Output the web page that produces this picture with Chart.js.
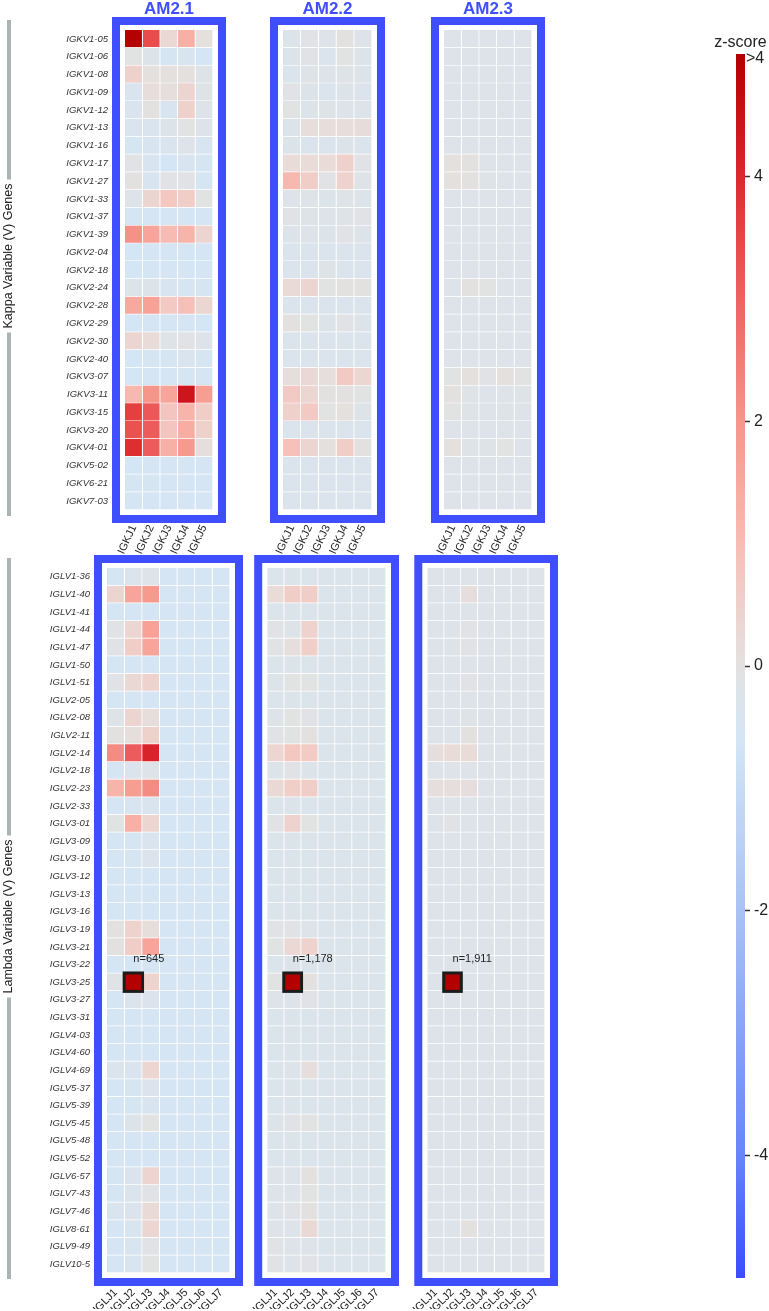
<!DOCTYPE html>
<html lang="en">
<head>
<meta charset="UTF-8">
<title>V-J gene usage z-scores</title>
<script src="https://cdn.jsdelivr.net/npm/chart.js"></script>
<style>
  body { margin: 0; background: #fff; }
  #page { position: relative; width: 769px; height: 1311px; overflow: hidden; }
  #page canvas { position: absolute; }
</style>
</head>
<body>
<div id="page">
  <canvas id="k1" width="240" height="575" style="left:0;top:0"></canvas>
  <canvas id="k2" width="160" height="575" style="left:240px;top:0"></canvas>
  <canvas id="k3" width="160" height="575" style="left:400px;top:0"></canvas>
  <canvas id="l1" width="250" height="781" style="left:0;top:530px"></canvas>
  <canvas id="l2" width="170" height="781" style="left:240px;top:530px"></canvas>
  <canvas id="l3" width="170" height="781" style="left:400px;top:530px"></canvas>
  <canvas id="cbar" width="79" height="1311" style="left:690px;top:0"></canvas>
</div>

<script>
const samples = ['AM2.1', 'AM2.2', 'AM2.3'];

const kappaGenes = ['IGKV1-05', 'IGKV1-06', 'IGKV1-08', 'IGKV1-09', 'IGKV1-12', 'IGKV1-13', 'IGKV1-16',
  'IGKV1-17', 'IGKV1-27', 'IGKV1-33', 'IGKV1-37', 'IGKV1-39', 'IGKV2-04', 'IGKV2-18', 'IGKV2-24',
  'IGKV2-28', 'IGKV2-29', 'IGKV2-30', 'IGKV2-40', 'IGKV3-07', 'IGKV3-11', 'IGKV3-15', 'IGKV3-20',
  'IGKV4-01', 'IGKV5-02', 'IGKV6-21', 'IGKV7-03'];
const kappaJ = ['IGKJ1', 'IGKJ2', 'IGKJ3', 'IGKJ4', 'IGKJ5'];

const lambdaGenes = ['IGLV1-36', 'IGLV1-40', 'IGLV1-41', 'IGLV1-44', 'IGLV1-47', 'IGLV1-50', 'IGLV1-51',
  'IGLV2-05', 'IGLV2-08', 'IGLV2-11', 'IGLV2-14', 'IGLV2-18', 'IGLV2-23', 'IGLV2-33', 'IGLV3-01',
  'IGLV3-09', 'IGLV3-10', 'IGLV3-12', 'IGLV3-13', 'IGLV3-16', 'IGLV3-19', 'IGLV3-21', 'IGLV3-22',
  'IGLV3-25', 'IGLV3-27', 'IGLV3-31', 'IGLV4-03', 'IGLV4-60', 'IGLV4-69', 'IGLV5-37', 'IGLV5-39',
  'IGLV5-45', 'IGLV5-48', 'IGLV5-52', 'IGLV6-57', 'IGLV7-43', 'IGLV7-46', 'IGLV8-61', 'IGLV9-49',
  'IGLV10-5'];
const lambdaJ = ['IGLJ1', 'IGLJ2', 'IGLJ3', 'IGLJ4', 'IGLJ5', 'IGLJ6', 'IGLJ7'];

// z-scores, one row per V gene, one column per J gene
const kappaAM21 = [
  [5.0, 3.4, 0.3, 1.3, 0.05],
  [-0.05, -0.25, -0.5, -0.45, -0.6],
  [0.5, 0.05, 0.05, 0.05, -0.15],
  [-0.35, 0.15, 0.1, 0.4, -0.15],
  [-0.4, 0.0, -0.45, 0.5, -0.2],
  [-0.4, -0.35, -0.25, -0.05, -0.2],
  [-0.5, -0.45, -0.35, -0.2, -0.45],
  [-0.1, -0.45, -0.6, -0.45, -0.5],
  [0.0, -0.45, -0.1, -0.1, -0.5],
  [-0.2, 0.4, 0.75, 0.6, -0.05],
  [-0.55, -0.55, -0.55, -0.55, -0.55],
  [2.1, 1.6, 1.0, 1.2, 0.4],
  [-0.6, -0.55, -0.55, -0.55, -0.55],
  [-0.6, -0.55, -0.55, -0.55, -0.55],
  [-0.25, -0.25, -0.45, -0.5, -0.5],
  [1.5, 1.7, 0.7, 0.95, 0.35],
  [-0.6, -0.55, -0.55, -0.55, -0.6],
  [0.4, 0.2, -0.15, -0.1, -0.2],
  [-0.6, -0.5, -0.5, -0.35, -0.5],
  [-0.6, -0.55, -0.55, -0.5, -0.55],
  [1.1, 2.0, 1.6, 4.4, 1.8],
  [3.6, 3.2, 0.8, 1.2, 0.6],
  [3.3, 3.1, 0.8, 1.4, 0.5],
  [3.9, 3.1, 1.3, 1.9, 0.1],
  [-0.6, -0.55, -0.55, -0.55, -0.55],
  [-0.55, -0.5, -0.55, -0.55, -0.55],
  [-0.55, -0.55, -0.55, -0.55, -0.55]
];
const kappaAM22 = [
  [-0.25, -0.1, -0.2, 0.0, -0.2],
  [-0.25, -0.1, -0.3, -0.05, -0.25],
  [-0.3, -0.15, -0.2, -0.15, -0.25],
  [-0.1, -0.25, -0.3, -0.25, -0.3],
  [-0.05, -0.25, -0.15, -0.2, -0.25],
  [-0.25, 0.15, 0.15, 0.15, 0.12],
  [-0.25, -0.3, -0.3, -0.25, -0.3],
  [0.2, 0.2, 0.2, 0.5, -0.1],
  [1.1, 0.6, -0.1, 0.45, -0.15],
  [-0.2, -0.15, -0.25, -0.15, -0.25],
  [-0.1, -0.15, -0.2, -0.15, -0.1],
  [-0.25, -0.2, -0.25, -0.1, -0.25],
  [-0.3, -0.3, -0.3, -0.3, -0.3],
  [-0.3, -0.3, -0.15, -0.3, -0.3],
  [0.25, 0.4, -0.05, 0.0, 0.0],
  [-0.3, -0.3, -0.3, -0.3, -0.3],
  [0.0, -0.05, -0.25, -0.1, -0.25],
  [-0.3, -0.3, -0.3, -0.3, -0.3],
  [-0.3, -0.3, -0.3, -0.3, -0.3],
  [0.1, 0.3, 0.1, 0.7, 0.35],
  [0.7, 0.35, 0.0, 0.0, -0.05],
  [0.5, 0.7, -0.05, 0.05, -0.15],
  [-0.3, -0.3, -0.3, -0.3, -0.3],
  [0.9, 0.4, 0.05, 0.6, 0.0],
  [-0.3, -0.3, -0.3, -0.3, -0.3],
  [-0.3, -0.3, -0.3, -0.3, -0.3],
  [-0.3, -0.3, -0.3, -0.3, -0.3]
];
const kappaAM23 = [
  [-0.2, -0.2, -0.2, -0.2, -0.2],
  [-0.2, -0.2, -0.2, -0.2, -0.2],
  [-0.2, -0.2, -0.2, -0.2, -0.2],
  [-0.2, -0.2, -0.2, -0.2, -0.2],
  [-0.2, -0.2, -0.2, -0.2, -0.2],
  [-0.2, -0.2, -0.2, -0.2, -0.2],
  [-0.2, -0.2, -0.2, -0.2, -0.2],
  [0.05, 0.0, -0.2, -0.2, -0.2],
  [0.05, 0.0, -0.15, -0.2, -0.2],
  [-0.2, -0.2, -0.2, -0.2, -0.2],
  [-0.2, -0.2, -0.2, -0.2, -0.2],
  [-0.2, -0.2, -0.2, -0.2, -0.2],
  [-0.2, -0.2, -0.2, -0.2, -0.2],
  [-0.2, -0.2, -0.2, -0.2, -0.2],
  [-0.2, 0.0, -0.05, -0.2, -0.2],
  [-0.2, -0.2, -0.2, -0.2, -0.2],
  [-0.2, -0.2, -0.2, -0.2, -0.2],
  [-0.2, -0.2, -0.2, -0.2, -0.2],
  [-0.2, -0.2, -0.2, -0.2, -0.2],
  [-0.05, 0.05, -0.1, 0.05, -0.05],
  [0.0, -0.15, -0.2, -0.2, -0.15],
  [-0.05, -0.15, -0.2, -0.15, -0.2],
  [-0.2, -0.2, -0.2, -0.2, -0.2],
  [0.05, -0.15, -0.15, -0.05, -0.2],
  [-0.2, -0.2, -0.2, -0.2, -0.2],
  [-0.2, -0.2, -0.2, -0.2, -0.2],
  [-0.2, -0.2, -0.2, -0.2, -0.2]
];

const lambdaAM21 = [
  [-0.55, -0.3, -0.2, -0.55, -0.55, -0.55, -0.55],
  [0.4, 1.6, 1.9, -0.55, -0.55, -0.55, -0.55],
  [-0.55, -0.55, -0.55, -0.55, -0.55, -0.55, -0.55],
  [-0.1, 0.35, 1.7, -0.55, -0.55, -0.55, -0.55],
  [-0.1, 0.6, 1.6, -0.55, -0.55, -0.55, -0.55],
  [-0.55, -0.55, -0.55, -0.55, -0.55, -0.55, -0.55],
  [-0.1, 0.3, 0.45, -0.55, -0.55, -0.55, -0.55],
  [-0.55, -0.55, -0.55, -0.55, -0.55, -0.55, -0.55],
  [-0.15, 0.4, 0.15, -0.55, -0.55, -0.55, -0.55],
  [0.0, 0.1, 0.5, -0.55, -0.55, -0.55, -0.55],
  [2.2, 3.1, 4.1, -0.55, -0.55, -0.55, -0.55],
  [-0.55, -0.3, -0.15, -0.55, -0.55, -0.55, -0.55],
  [1.2, 1.8, 2.2, -0.55, -0.55, -0.55, -0.55],
  [-0.55, -0.45, -0.35, -0.55, -0.55, -0.55, -0.55],
  [-0.05, 1.3, 0.35, -0.55, -0.55, -0.55, -0.55],
  [-0.55, -0.5, -0.35, -0.55, -0.55, -0.55, -0.55],
  [-0.55, -0.5, -0.3, -0.55, -0.55, -0.55, -0.55],
  [-0.55, -0.55, -0.55, -0.55, -0.55, -0.55, -0.55],
  [-0.55, -0.55, -0.55, -0.55, -0.55, -0.55, -0.55],
  [-0.55, -0.55, -0.55, -0.55, -0.55, -0.55, -0.55],
  [0.0, 0.45, 0.15, -0.55, -0.55, -0.55, -0.55],
  [0.0, 0.6, 1.6, -0.55, -0.55, -0.55, -0.55],
  [-0.55, -0.55, -0.55, -0.55, -0.55, -0.55, -0.55],
  [-0.1, 5.0, 0.45, -0.55, -0.55, -0.55, -0.55],
  [-0.55, -0.3, -0.3, -0.55, -0.55, -0.55, -0.55],
  [-0.55, -0.55, -0.55, -0.55, -0.55, -0.55, -0.55],
  [-0.55, -0.55, -0.55, -0.55, -0.55, -0.55, -0.55],
  [-0.55, -0.55, -0.55, -0.55, -0.55, -0.55, -0.55],
  [-0.3, -0.35, 0.35, -0.55, -0.55, -0.55, -0.55],
  [-0.55, -0.5, -0.3, -0.55, -0.55, -0.55, -0.55],
  [-0.55, -0.5, -0.45, -0.55, -0.55, -0.55, -0.55],
  [-0.55, -0.25, -0.05, -0.55, -0.55, -0.55, -0.55],
  [-0.55, -0.55, -0.55, -0.55, -0.55, -0.55, -0.55],
  [-0.55, -0.55, -0.55, -0.55, -0.55, -0.55, -0.55],
  [-0.55, -0.3, 0.4, -0.55, -0.55, -0.55, -0.55],
  [-0.55, -0.3, -0.1, -0.55, -0.55, -0.55, -0.55],
  [-0.4, -0.3, 0.25, -0.55, -0.55, -0.55, -0.55],
  [-0.55, -0.45, 0.35, -0.55, -0.55, -0.55, -0.55],
  [-0.55, -0.45, -0.1, -0.55, -0.55, -0.55, -0.55],
  [-0.55, -0.45, -0.05, -0.55, -0.55, -0.55, -0.55]
];
const lambdaAM22 = [
  [-0.28, -0.28, -0.28, -0.28, -0.28, -0.28, -0.28],
  [0.2, 0.6, 0.6, -0.28, -0.28, -0.28, -0.28],
  [-0.28, -0.28, -0.28, -0.28, -0.28, -0.28, -0.28],
  [-0.1, -0.15, 0.45, -0.28, -0.28, -0.28, -0.28],
  [-0.1, 0.1, 0.55, -0.28, -0.28, -0.28, -0.28],
  [-0.28, -0.28, -0.28, -0.28, -0.28, -0.28, -0.28],
  [-0.25, -0.05, -0.05, -0.28, -0.28, -0.28, -0.28],
  [-0.28, -0.28, -0.28, -0.28, -0.28, -0.28, -0.28],
  [-0.2, -0.05, -0.1, -0.28, -0.28, -0.28, -0.28],
  [-0.1, -0.05, 0.0, -0.28, -0.28, -0.28, -0.28],
  [0.35, 0.75, 0.65, -0.28, -0.28, -0.28, -0.28],
  [-0.25, -0.1, -0.25, -0.28, -0.28, -0.28, -0.28],
  [0.3, 0.55, 0.6, -0.28, -0.28, -0.28, -0.28],
  [-0.28, -0.28, -0.28, -0.28, -0.28, -0.28, -0.28],
  [-0.1, 0.45, -0.05, -0.28, -0.28, -0.28, -0.28],
  [-0.28, -0.28, -0.28, -0.28, -0.28, -0.28, -0.28],
  [-0.28, -0.28, -0.28, -0.28, -0.28, -0.28, -0.28],
  [-0.28, -0.28, -0.28, -0.28, -0.28, -0.28, -0.28],
  [-0.28, -0.28, -0.28, -0.28, -0.28, -0.28, -0.28],
  [-0.28, -0.28, -0.28, -0.28, -0.28, -0.28, -0.28],
  [-0.1, -0.1, -0.2, -0.28, -0.28, -0.28, -0.28],
  [-0.05, 0.3, 0.45, -0.28, -0.28, -0.28, -0.28],
  [-0.28, -0.28, -0.28, -0.28, -0.28, -0.28, -0.28],
  [-0.05, 5.0, 0.0, -0.28, -0.28, -0.28, -0.28],
  [-0.25, -0.2, -0.1, -0.28, -0.28, -0.28, -0.28],
  [-0.28, -0.28, -0.28, -0.28, -0.28, -0.28, -0.28],
  [-0.28, -0.28, -0.28, -0.28, -0.28, -0.28, -0.28],
  [-0.28, -0.28, -0.28, -0.28, -0.28, -0.28, -0.28],
  [-0.28, -0.2, 0.1, -0.28, -0.28, -0.28, -0.28],
  [-0.28, -0.28, -0.28, -0.28, -0.28, -0.28, -0.28],
  [-0.28, -0.28, -0.28, -0.28, -0.28, -0.28, -0.28],
  [-0.25, -0.1, -0.05, -0.28, -0.28, -0.28, -0.28],
  [-0.28, -0.28, -0.28, -0.28, -0.28, -0.28, -0.28],
  [-0.28, -0.28, -0.28, -0.28, -0.28, -0.28, -0.28],
  [-0.25, -0.2, 0.05, -0.28, -0.28, -0.28, -0.28],
  [-0.25, -0.2, -0.05, -0.28, -0.28, -0.28, -0.28],
  [-0.2, -0.1, 0.0, -0.28, -0.28, -0.28, -0.28],
  [-0.2, -0.2, 0.3, -0.28, -0.28, -0.28, -0.28],
  [-0.1, -0.2, -0.2, -0.28, -0.28, -0.28, -0.28],
  [-0.1, -0.2, -0.1, -0.28, -0.28, -0.28, -0.28]
];
const lambdaAM23 = [
  [-0.2, -0.2, -0.2, -0.2, -0.2, -0.2, -0.2],
  [-0.2, -0.2, 0.1, -0.2, -0.2, -0.2, -0.2],
  [-0.2, -0.2, -0.2, -0.2, -0.2, -0.2, -0.2],
  [-0.2, -0.2, -0.1, -0.2, -0.2, -0.2, -0.2],
  [-0.2, -0.15, -0.1, -0.2, -0.2, -0.2, -0.2],
  [-0.2, -0.2, -0.2, -0.2, -0.2, -0.2, -0.2],
  [-0.2, -0.2, -0.1, -0.2, -0.2, -0.2, -0.2],
  [-0.2, -0.2, -0.2, -0.2, -0.2, -0.2, -0.2],
  [-0.2, -0.2, -0.15, -0.2, -0.2, -0.2, -0.2],
  [-0.2, -0.2, 0.0, -0.2, -0.2, -0.2, -0.2],
  [0.1, 0.2, 0.2, -0.2, -0.2, -0.2, -0.2],
  [-0.2, -0.2, -0.2, -0.2, -0.2, -0.2, -0.2],
  [0.1, 0.1, 0.1, -0.2, -0.2, -0.2, -0.2],
  [-0.2, -0.2, -0.2, -0.2, -0.2, -0.2, -0.2],
  [-0.2, -0.1, -0.2, -0.2, -0.2, -0.2, -0.2],
  [-0.2, -0.2, -0.2, -0.2, -0.2, -0.2, -0.2],
  [-0.2, -0.2, -0.2, -0.2, -0.2, -0.2, -0.2],
  [-0.2, -0.2, -0.2, -0.2, -0.2, -0.2, -0.2],
  [-0.2, -0.2, -0.2, -0.2, -0.2, -0.2, -0.2],
  [-0.2, -0.2, -0.2, -0.2, -0.2, -0.2, -0.2],
  [-0.2, -0.2, -0.2, -0.2, -0.2, -0.2, -0.2],
  [-0.2, -0.2, -0.2, -0.2, -0.2, -0.2, -0.2],
  [-0.2, -0.2, -0.2, -0.2, -0.2, -0.2, -0.2],
  [-0.2, 5.0, -0.2, -0.2, -0.2, -0.2, -0.2],
  [-0.2, -0.2, -0.2, -0.2, -0.2, -0.2, -0.2],
  [-0.2, -0.2, -0.2, -0.2, -0.2, -0.2, -0.2],
  [-0.2, -0.2, -0.2, -0.2, -0.2, -0.2, -0.2],
  [-0.2, -0.2, -0.2, -0.2, -0.2, -0.2, -0.2],
  [-0.2, -0.2, -0.2, -0.2, -0.2, -0.2, -0.2],
  [-0.2, -0.2, -0.2, -0.2, -0.2, -0.2, -0.2],
  [-0.2, -0.2, -0.2, -0.2, -0.2, -0.2, -0.2],
  [-0.2, -0.2, -0.2, -0.2, -0.2, -0.2, -0.2],
  [-0.2, -0.2, -0.2, -0.2, -0.2, -0.2, -0.2],
  [-0.2, -0.2, -0.2, -0.2, -0.2, -0.2, -0.2],
  [-0.2, -0.2, -0.2, -0.2, -0.2, -0.2, -0.2],
  [-0.2, -0.2, -0.2, -0.2, -0.2, -0.2, -0.2],
  [-0.2, -0.2, -0.2, -0.2, -0.2, -0.2, -0.2],
  [-0.2, -0.2, 0.0, -0.2, -0.2, -0.2, -0.2],
  [-0.2, -0.2, -0.2, -0.2, -0.2, -0.2, -0.2],
  [-0.2, -0.2, -0.2, -0.2, -0.2, -0.2, -0.2]
];

// highlighted IGLV3-25 / IGLJ2 cell and its counts
const hiGene = 'IGLV3-25';
const hiJ = 'IGLJ2';
const nLabels = ['n=645', 'n=1,178', 'n=1,911'];

// colour bar
const barRange = [-5, 5];
const barTicks = [4, 2, 0, -2, -4];
const barTitle = 'z-score';
const barTopLabel = '>4';

const FONT = '"Liberation Sans", Arial, sans-serif';
const BLUE = '#3f4fff';
const zStops = [
  [-5, '#3a4cff'], [-4, '#6784fb'], [-2, '#a9c2f3'], [-0.6, '#d4e5f5'], [-0.3, '#dbe4ec'],
  [-0.15, '#dee3e7'], [0, '#e3e1e0'], [0.3, '#ead8d4'], [0.7, '#f3c9c3'], [1.2, '#f8b4aa'],
  [2, '#f6968b'], [3, '#ee6262'], [3.5, '#e84646'], [4.2, '#d51d25'], [5, '#b30000']
];

Chart.defaults.font.family = FONT;
Chart.defaults.color = '#222';

function hexRgb(h) {
  return [1, 3, 5].map(i => parseInt(h.substr(i, 2), 16));
}

function zColor(z) {
  z = Math.max(zStops[0][0], Math.min(zStops[zStops.length - 1][0], z));
  for (let i = 1; i < zStops.length; i++) {
    if (z <= zStops[i][0]) {
      const [z0, c0] = zStops[i - 1], [z1, c1] = zStops[i];
      const t = (z - z0) / (z1 - z0);
      const a = hexRgb(c0), b = hexRgb(c1);
      return 'rgb(' + a.map((v, k) => Math.round(v + (b[k] - v) * t)).join(',') + ')';
    }
  }
  return zStops[zStops.length - 1][1];
}

// blue frame, sample title, side title and the highlighted cell
const panelDecor = {
  id: 'panelDecor',
  afterDatasetsDraw(chart, args, o) {
    const {ctx, chartArea: a} = chart;
    ctx.save();
    ctx.strokeStyle = BLUE;
    ctx.lineWidth = 8;
    ctx.strokeRect(a.left - 9, a.top - 9, a.right - a.left + 18, a.bottom - a.top + 18);

    if (o.title) {
      ctx.fillStyle = BLUE;
      ctx.font = 'bold 17px ' + FONT;
      ctx.textAlign = 'center';
      ctx.textBaseline = 'middle';
      ctx.fillText(o.title, (a.left + a.right) / 2, a.top - 21);
    }

    if (o.side) {
      const mid = (a.top + a.bottom) / 2 + o.sideShift;
      ctx.font = '12.5px ' + FONT;
      const tw = ctx.measureText(o.side).width;
      ctx.fillStyle = '#aab4b4';
      ctx.fillRect(7, a.top - 10, 4, mid - tw / 2 - 4 - (a.top - 10));
      ctx.fillRect(7, mid + tw / 2 + 4, 4, a.bottom + 6 - (mid + tw / 2 + 4));
      ctx.translate(9, mid);
      ctx.rotate(-Math.PI / 2);
      ctx.fillStyle = '#222';
      ctx.textAlign = 'center';
      ctx.textBaseline = 'middle';
      ctx.fillText(o.side, 0, 0);
      ctx.setTransform(1, 0, 0, 1, 0, 0);
    }

    if (o.hi) {
      const el = chart.getDatasetMeta(o.hi.col).data[o.hi.row];
      const p = el.getProps(['x', 'y', 'base', 'height'], true);
      const left = Math.min(p.x, p.base), w = Math.abs(p.x - p.base);
      const top = p.y - p.height / 2;
      ctx.strokeStyle = '#1c1c1c';
      ctx.lineWidth = 3;
      ctx.strokeRect(left - 0.4, top - 0.4, w + 0.8, p.height + 0.8);
      ctx.fillStyle = '#222';
      ctx.font = '11px ' + FONT;
      ctx.textAlign = 'left';
      ctx.textBaseline = 'middle';
      ctx.fillText(o.hi.label, left + w / 2, top - 14);
    }
    ctx.restore();
  }
};

function heatPanel(id, genes, jGenes, z, o) {
  const datasets = jGenes.map((j, c) => ({
    label: j,
    data: genes.map(() => 1),
    backgroundColor: genes.map((g, r) => zColor(z[r][c])),
    borderColor: '#ffffff',
    borderWidth: {top: 0, left: 0, right: 1, bottom: 1},
    borderSkipped: false,
    barPercentage: 1,
    categoryPercentage: 1
  }));
  return new Chart(document.getElementById(id), {
    type: 'bar',
    data: {labels: genes, datasets: datasets},
    options: {
      indexAxis: 'y',
      responsive: false,
      animation: false,
      devicePixelRatio: 1,
      layout: {padding: o.pad},
      plugins: {
        legend: {display: false},
        tooltip: {enabled: false},
        panelDecor: {title: o.title, side: o.side, sideShift: o.sideShift || 0, hi: o.hi}
      },
      scales: {
        x: {stacked: true, display: false, min: 0, max: jGenes.length},
        xj: {
          type: 'category',
          position: 'bottom',
          labels: jGenes,
          offset: true,
          grid: {display: false, drawTicks: false},
          border: {display: false},
          afterFit: s => { s.height = o.xh; },
          ticks: {autoSkip: false, minRotation: o.rot, maxRotation: o.rot, padding: 13,
            color: '#222', font: {size: 11}}
        },
        y: {
          stacked: true,
          display: !!o.showGenes,
          grid: {display: false, drawTicks: false},
          border: {display: false},
          afterFit: s => { s.width = o.showGenes ? o.yw : 0; },
          ticks: {autoSkip: false, padding: 17, color: '#333', font: {size: 9.5, style: 'italic'}}
        }
      }
    },
    plugins: [panelDecor]
  });
}

const kappaData = [kappaAM21, kappaAM22, kappaAM23];
const lambdaData = [lambdaAM21, lambdaAM22, lambdaAM23];
const kappaPads = [
  {left: 0, right: 27, top: 30, bottom: 20},
  {left: 43, right: 28, top: 30, bottom: 20},
  {left: 44, right: 28, top: 30, bottom: 20}
];
const lambdaPads = [
  {left: 0, right: 20, top: 38, bottom: 2},
  {left: 23, right: 24, top: 38, bottom: 2},
  {left: 22, right: 25, top: 38, bottom: 2}
];

samples.forEach((s, i) => {
  heatPanel('k' + (i + 1), kappaGenes, kappaJ, kappaData[i], {
    pad: kappaPads[i], xh: 45, rot: 65, yw: 125, showGenes: i === 0, title: s,
    side: i === 0 ? 'Kappa Variable (V) Genes' : null, sideShift: -14
  });
  heatPanel('l' + (i + 1), lambdaGenes, lambdaJ, lambdaData[i], {
    pad: lambdaPads[i], xh: 36, rot: 45, yw: 107, showGenes: i === 0,
    side: i === 0 ? 'Lambda Variable (V) Genes' : null, sideShift: -4,
    hi: {row: lambdaGenes.indexOf(hiGene), col: lambdaJ.indexOf(hiJ), label: nLabels[i]}
  });
});

// colour bar title and the ">4" cap label
const barNotes = {
  id: 'barNotes',
  afterDraw(chart) {
    const {ctx, chartArea: a} = chart;
    ctx.save();
    ctx.fillStyle = '#222';
    ctx.font = '16px ' + FONT;
    ctx.textAlign = 'center';
    ctx.textBaseline = 'middle';
    ctx.fillText(barTitle, (a.left + a.right) / 2, a.top - 11);
    ctx.textAlign = 'left';
    ctx.fillText(barTopLabel, a.right + 1, a.top + 5);
    ctx.restore();
  }
};

new Chart(document.getElementById('cbar'), {
  type: 'bar',
  data: {
    labels: [barTitle],
    datasets: [{
      data: [barRange],
      barPercentage: 1,
      categoryPercentage: 1,
      backgroundColor: c => {
        const ch = c.chart;
        if (!ch.chartArea) return '#ccc';
        const y = ch.scales.y;
        const g = ch.ctx.createLinearGradient(0, y.getPixelForValue(barRange[0]), 0, y.getPixelForValue(barRange[1]));
        zStops.forEach(([v, col]) => g.addColorStop((v - barRange[0]) / (barRange[1] - barRange[0]), col));
        return g;
      }
    }]
  },
  options: {
    responsive: false,
    animation: false,
    devicePixelRatio: 1,
    layout: {padding: {left: 46, right: 0, top: 54, bottom: 33}},
    plugins: {legend: {display: false}, tooltip: {enabled: false}},
    scales: {
      x: {display: false},
      y: {
        position: 'right',
        min: barRange[0],
        max: barRange[1],
        afterBuildTicks: s => { s.ticks = barTicks.map(v => ({value: v})); },
        afterFit: s => { s.width = 24; },
        grid: {drawOnChartArea: false, drawTicks: true, tickLength: 5, tickColor: '#333', tickWidth: 1.5},
        border: {display: false},
        ticks: {padding: 4, color: '#222', font: {size: 16}}
      }
    }
  },
  plugins: [barNotes]
});
</script>
</body>
</html>
